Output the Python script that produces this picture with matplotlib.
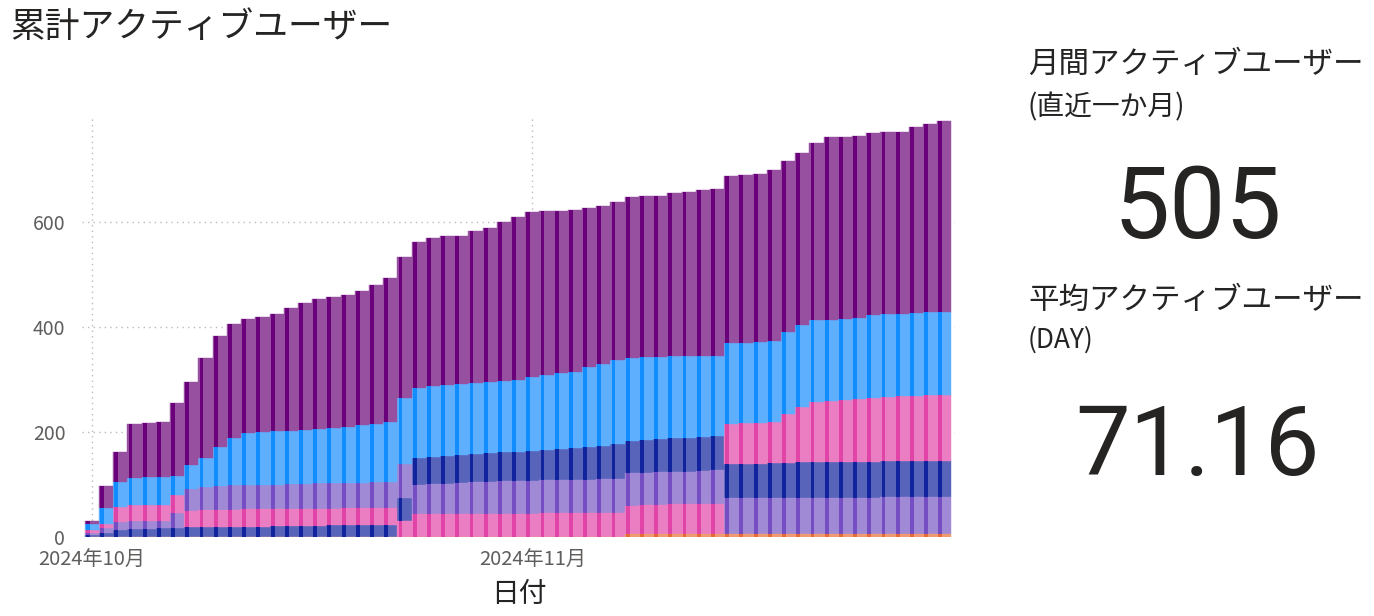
import numpy as np
import matplotlib.pyplot as plt

plt.rcParams['font.family'] = ['Noto Sans CJK JP', 'DejaVu Sans']

# one bar per day, 2024-10-01 .. 2024-11-30
days = np.arange(61)
xtick_days = [0, 31]
xtick_labels = ['2024年10月', '2024年11月']
ytick_vals = [0, 200, 400, 600]

navy = [3, 8, 13, 15, 16, 17, 18, 19, 19, 20,
        20, 20, 20, 21, 21, 21, 21, 22, 22, 22,
        22, 22, 45, 51, 52, 53, 54, 54, 55, 55,
        55, 57, 58, 60, 61, 63, 64, 67, 60, 62,
        63, 65, 65, 65, 66, 66, 66, 66, 67, 66,
        67, 67, 67, 67, 68, 68, 68, 68, 68, 68, 69]
lavender = [5, 10, 16, 15, 14, 13, 27, 42, 45, 46,
            47, 47, 47, 47, 47, 47, 48, 48, 48, 48,
            49, 49, 65, 56, 57, 58, 59, 60, 61, 62,
            63, 63, 63, 63, 64, 64, 65, 65, 62, 61,
            62, 61, 62, 63, 64, 69, 69, 69, 69, 70,
            70, 70, 70, 70, 70, 70, 71, 71, 71, 71, 71]
pink = [5, 7, 28, 31, 31, 31, 35, 31, 32, 32,
        32, 33, 33, 32, 33, 33, 33, 32, 33, 33,
        33, 33, 30, 43, 43, 43, 43, 44, 44, 44,
        44, 44, 45, 45, 45, 45, 45, 45, 55, 56,
        56, 57, 57, 57, 58, 76, 77, 78, 79, 94,
        106, 116, 118, 119, 119, 122, 123, 124, 125, 126, 126]
blue = [12, 30, 48, 51, 53, 54, 36, 46, 54, 74,
        89, 98, 100, 101, 101, 102, 103, 105, 107, 110,
        112, 116, 125, 133, 136, 136, 136, 136, 136, 137,
        138, 140, 143, 144, 145, 152, 156, 160, 159, 158,
        157, 156, 155, 155, 152, 153, 153, 153, 154, 156,
        156, 155, 154, 154, 155, 158, 157, 157, 158, 158, 158]
purple = [5, 42, 57, 103, 103, 104, 139, 158, 191, 210,
          217, 217, 220, 224, 234, 242, 248, 251, 251, 256,
          264, 273, 269, 278, 282, 283, 281, 289, 293, 302,
          310, 315, 311, 309, 307, 303, 300, 301, 306, 308,
          307, 311, 314, 316, 318, 319, 320, 320, 325, 325,
          328, 338, 347, 347, 346, 347, 347, 347, 354, 358, 363]
orange = [0] * 38 + [5] * 23

series = {'navy': navy, 'lavender': lavender, 'pink': pink,
          'blue': blue, 'purple': purple, 'orange': orange}

# stacking order (bottom -> top), from the given day on
stack_orders = [
    (0, ['navy', 'lavender', 'pink', 'blue', 'purple']),
    (7, ['navy', 'pink', 'lavender', 'blue', 'purple']),
    (22, ['pink', 'navy', 'lavender', 'blue', 'purple']),
    (23, ['orange', 'pink', 'lavender', 'navy', 'blue', 'purple']),
    (45, ['orange', 'lavender', 'navy', 'pink', 'blue', 'purple']),
]

colors = {  # (stripe, fill)
    'purple': ('#6B007B', '#97509F'),
    'blue': ('#118DFF', '#5EB0FF'),
    'navy': ('#12239E', '#5864BA'),
    'lavender': ('#744EC2', '#A08AD6'),
    'pink': ('#E044A7', '#EB7DC2'),
    'orange': ('#E66C37', '#EE9B73'),
}

# bottoms per series
bottoms = {k: np.zeros(len(days)) for k in series}
for d in days:
    order = [o for start, o in stack_orders if start <= d][-1]
    acc = 0
    for name in order:
        bottoms[name][d] = acc
        acc += series[name][d]

fig = plt.figure(figsize=(13.74, 6.16), dpi=100)
ax = fig.add_axes([82 / 1374, 1 - 537 / 616, (955 - 82) / 1374, 420 / 616])

for name, vals in series.items():
    dark, light = colors[name]
    ax.bar(days, vals, width=1.0, bottom=bottoms[name], color=light,
           edgecolor=light, linewidth=0.3, zorder=2)
    ax.bar(days - 0.42, vals, width=0.27, bottom=bottoms[name], align='edge',
           color=dark, linewidth=0, zorder=3)

ax.set_xlim(-0.7, 60.75)
ax.set_ylim(0, 800)
ax.set_xticks(xtick_days)
ax.set_xticklabels(xtick_labels)
ax.set_yticks(ytick_vals)
ax.tick_params(length=0, colors='#605E5C')
ax.tick_params(axis='y', pad=12, labelsize=14)
ax.tick_params(axis='x', pad=9, labelsize=14.5)
ax.grid(True, linestyle=(0, (1, 3)), color='#BDBBB9', linewidth=1.0)
ax.set_axisbelow(True)
for s in ax.spines.values():
    s.set_visible(False)
ax.set_xlabel('日付', fontsize=20, color='#252423', labelpad=6)

fig.text(10 / 1374, 1 - 28 / 616, '累計アクティブユーザー', fontsize=25,
         color='#252423', va='center')

fig.text(1028 / 1374, 1 - 64 / 616, '月間アクティブユーザー', fontsize=22,
         color='#252423', va='center')
fig.text(1028 / 1374, 1 - 107 / 616, '(直近一か月)', fontsize=20,
         color='#252423', va='center')
fig.text(1198 / 1374, 1 - 238 / 616, '505', fontsize=72, family='Roboto',
         color='#252423', ha='center', va='baseline')
fig.text(1028 / 1374, 1 - 300 / 616, '平均アクティブユーザー', fontsize=22,
         color='#252423', va='center')
fig.text(1028 / 1374, 1 - 340 / 616, '(DAY)', fontsize=19,
         color='#252423', va='center')
fig.text(1197 / 1374, 1 - 475 / 616, '71.16', fontsize=70, family='Roboto',
         color='#252423', ha='center', va='baseline')

fig.savefig('out.png', dpi=100)
